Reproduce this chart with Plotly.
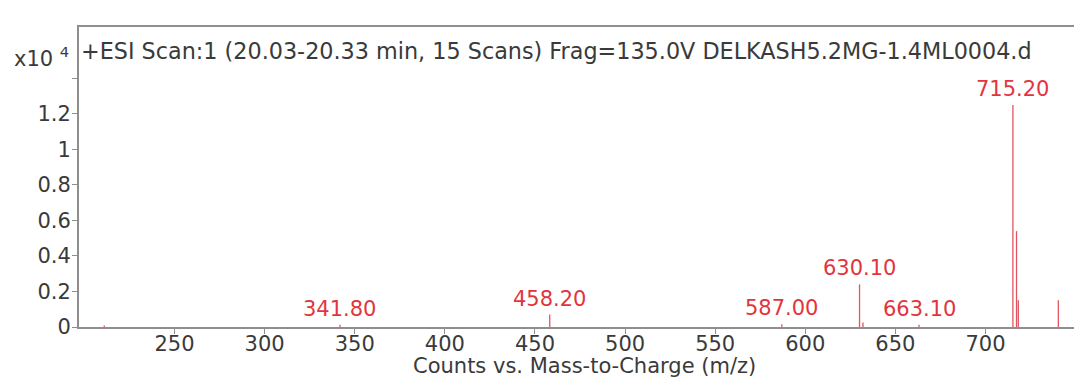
import plotly.graph_objects as go

# ---- data (m/z, counts) ----
peak_mz = [211.0, 341.8, 458.2, 587.0, 630.1, 632.0, 663.1, 715.2, 717.2, 718.2, 740.4]
peak_counts = [80, 120, 700, 150, 2400, 250, 120, 12500, 5400, 1500, 1500]
label_mz = [341.8, 458.2, 587.0, 630.1, 663.1, 715.2]
label_text = ["341.80", "458.20", "587.00", "630.10", "663.10", "715.20"]

x_ticks = [250, 300, 350, 400, 450, 500, 550, 600, 650, 700]
y_ticks = [0, 2000, 4000, 6000, 8000, 10000, 12000, 14000]
y_ticktext = ["0", "0.2", "0.4", "0.6", "0.8", "1", "1.2", ""]

title_text = "+ESI Scan:1 (20.03-20.33 min, 15 Scans) Frag=135.0V DELKASH5.2MG-1.4ML0004.d"
x_title = "Counts vs. Mass-to-Charge (m/z)"

FONT = "DejaVu Sans"
TXT = "#3a3a3a"
RED_TXT = "#e3343e"
RED_LINE = "#e05562"
AXIS = "#8e8e8e"

# stick spectrum built from the arrays
xs, ys = [], []
for m, c in zip(peak_mz, peak_counts):
    xs += [m, m, None]
    ys += [0, c, None]

fig = go.Figure()
fig.add_trace(go.Scatter(x=xs, y=ys, mode="lines",
                         line=dict(color=RED_LINE, width=1.3)))

annotations = []
lookup = dict(zip(peak_mz, peak_counts))
for m, t in zip(label_mz, label_text):
    annotations.append(dict(x=m, y=lookup[m], xref="x", yref="y", text=t,
                            showarrow=False, xanchor="center", yanchor="bottom",
                            yshift=2, font=dict(family=FONT, size=21, color=RED_TXT)))

annotations.append(dict(x=0, y=1, xref="paper", yref="paper", text=title_text,
                        showarrow=False, xanchor="left", yanchor="top",
                        xshift=0, yshift=-10,
                        font=dict(family=FONT, size=22.3, color=TXT)))
annotations.append(dict(x=0, y=1, xref="paper", yref="paper", text="x10 <sup>4</sup>",
                        showarrow=False, xanchor="right", yanchor="top",
                        xshift=-8, yshift=-15,
                        font=dict(family=FONT, size=21, color=TXT)))
annotations.append(dict(x=0.5, y=0, xref="paper", yref="paper", text=x_title,
                        showarrow=False, xanchor="center", yanchor="top",
                        xshift=8, yshift=-25,
                        font=dict(family=FONT, size=21, color=TXT)))

fig.update_layout(
    width=1074, height=378,
    margin=dict(l=79, r=0, t=26, b=51),
    plot_bgcolor="white",
    showlegend=False,
    annotations=annotations,
    shapes=[
        dict(type="line", xref="paper", yref="paper", x0=-0.002, x1=1, y0=1, y1=1,
             line=dict(color=AXIS, width=2)),
        dict(type="rect", xref="paper", yref="paper", xsizemode="pixel", xanchor=1,
             x0=-5, x1=5, y0=0.01, y1=0.99, fillcolor="white",
             line=dict(width=0), layer="above"),
    ],
    xaxis=dict(range=[197.0, 749.1], tickvals=x_ticks, ticks="outside",
               ticklen=5, tickcolor=AXIS, ticklabelstandoff=-8,
               showline=True, linecolor=AXIS, linewidth=2,
               showgrid=False, zeroline=False,
               tickfont=dict(family=FONT, size=21, color=TXT)),
    yaxis=dict(range=[0, 16950], tickvals=y_ticks, ticktext=y_ticktext,
               ticks="outside", ticklen=5, tickcolor=AXIS,
               ticklabelstandoff=-3,
               showline=True, linecolor=AXIS, linewidth=2,
               showgrid=False, zeroline=False,
               tickfont=dict(family=FONT, size=21, color=TXT)),
)

fig.write_html("out.html")
